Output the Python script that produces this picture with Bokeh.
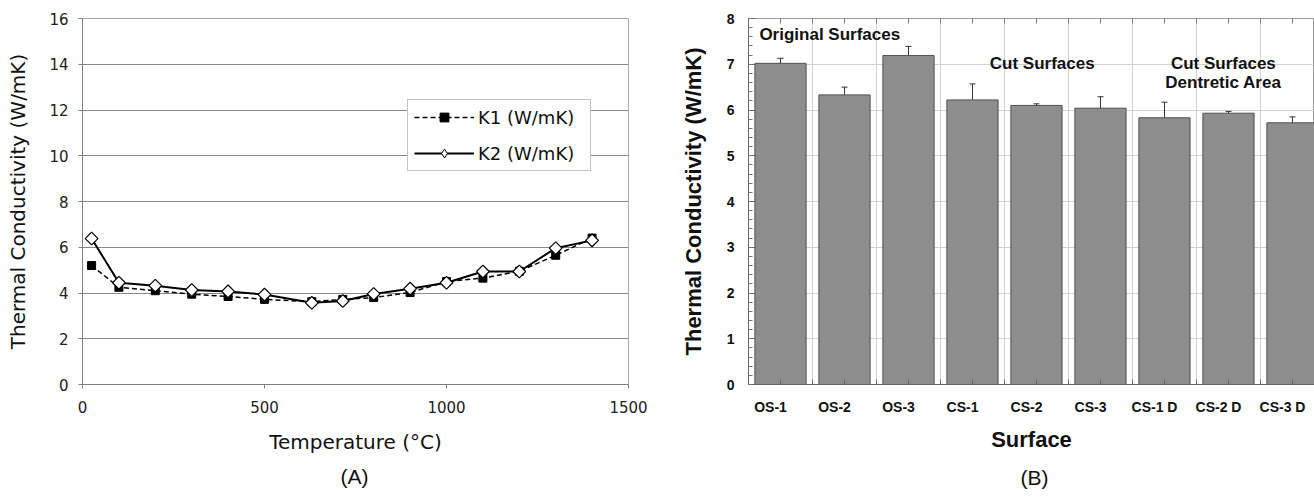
import numpy as np
from bokeh.plotting import figure
from bokeh.layouts import row
from bokeh.models import (Range1d, LinearAxis, FixedTicker, Legend, LegendItem,
                          Label, Title, Whisker, ColumnDataSource, TeeHead)
from bokeh.embed import file_html
from bokeh.resources import INLINE

# ---------------- data: panel (A) ----------------
temperature = [25, 100, 200, 300, 400, 500, 630, 715, 800, 900, 1000, 1100, 1200, 1300, 1400]
k1_values = [5.2, 4.25, 4.1, 3.95, 3.85, 3.72, 3.62, 3.72, 3.8, 4.02, 4.5, 4.65, 4.95, 5.65, 6.4]
k2_values = [6.38, 4.45, 4.32, 4.13, 4.07, 3.93, 3.57, 3.65, 3.96, 4.19, 4.45, 4.94, 4.94, 5.96, 6.3]
a_x_ticks = [0, 500, 1000, 1500]
a_y_ticks = [0, 2, 4, 6, 8, 10, 12, 14, 16]

# ---------------- data: panel (B) ----------------
surfaces = ["OS-1", "OS-2", "OS-3", "CS-1", "CS-2", "CS-3", "CS-1 D", "CS-2 D", "CS-3 D"]
conductivity = [7.02, 6.33, 7.19, 6.22, 6.10, 6.04, 5.83, 5.93, 5.72]
conductivity_err = [0.11, 0.17, 0.20, 0.35, 0.035, 0.25, 0.34, 0.04, 0.13]
group_labels = ["Original Surfaces", "Cut Surfaces", "Cut Surfaces", "Dentretic Area"]
captions = ["(A)", "(B)"]

FONT_A = "DejaVu Sans"
FONT_B = "Liberation Sans"

# ================= panel (A) =================
p1 = figure(width=673, height=498, x_range=Range1d(0, 1500), y_range=Range1d(0, 16),
            output_backend="svg", toolbar_location=None,
            min_border_left=82, min_border_right=45, min_border_top=18, min_border_bottom=112)
p1.background_fill_color = "white"
p1.outline_line_color = "#a8a8a8"
p1.xgrid.visible = False
p1.ygrid.grid_line_color = "#8a8a8a"
p1.ygrid.grid_line_width = 1

p1.xaxis.ticker = FixedTicker(ticks=a_x_ticks)
p1.yaxis.ticker = FixedTicker(ticks=a_y_ticks)
for ax in (p1.xaxis[0], p1.yaxis[0]):
    ax.axis_line_color = "#808080"
    ax.major_tick_line_color = "#808080"
    ax.major_tick_out = 4
    ax.major_tick_in = 0
    ax.minor_tick_line_color = None
    ax.major_label_text_font = FONT_A
    ax.major_label_text_font_size = "15px"
    ax.major_label_text_color = "#222222"
    ax.axis_label_text_font = FONT_A
    ax.axis_label_text_font_size = "20px"
    ax.axis_label_text_font_style = "normal"
    ax.axis_label_text_color = "#111111"
p1.xaxis.axis_label = "Temperature (°C)"
p1.yaxis.axis_label = "Thermal Conductivity (W/mK)"
p1.xaxis.major_label_standoff = 12
p1.xaxis.axis_label_standoff = 14
p1.yaxis.major_label_standoff = 10
p1.yaxis.axis_label_standoff = 16

l1 = p1.line(temperature, k1_values, line_color="black", line_width=1.5, line_dash="5 3")
s1 = p1.scatter(temperature, k1_values, marker="square", size=8, fill_color="black", line_color="black")
l2 = p1.line(temperature, k2_values, line_color="black", line_width=2)
s2 = p1.scatter(temperature, k2_values, marker="square", angle=np.pi / 4, size=9,
                fill_color="white", line_color="black", line_width=1.2)

# small legend-only marker (as drawn in the original legend); never visible in the frame
leg_dm = p1.scatter([np.nan], [np.nan], marker="diamond", size=10, fill_color="white",
                    line_color="black", line_width=1)

legend = Legend(items=[LegendItem(label="K1 (W/mK)", renderers=[l1, s1]),
                       LegendItem(label="K2 (W/mK)", renderers=[l2, leg_dm])],
                location=(325, 213), glyph_width=60, glyph_height=22, padding=6, spacing=14,
                label_standoff=4, label_width=106, margin=0, border_line_color="#888888",
                background_fill_color="white", background_fill_alpha=1.0,
                label_text_font=FONT_A, label_text_font_size="18px", label_text_color="#111111")
p1.add_layout(legend)

cap_kw = dict(align="left", text_font=FONT_B, text_font_size="21px",
              text_font_style="normal", text_color="#111111")
p1.add_layout(Title(text=captions[0], offset=258, standoff=13, **cap_kw), "below")

# ================= panel (B) =================
n = len(surfaces)
idx = list(range(n))
centers = [float(i) for i in idx]
boundaries = [i + 0.5 for i in range(-1, n)]
label_pos = [i - 0.15625 for i in idx]

p2 = figure(width=641, height=498, x_range=Range1d(-0.5, 8.344), y_range=Range1d(0, 8),
            output_backend="svg", toolbar_location=None,
            min_border_left=75, min_border_right=0, min_border_top=18, min_border_bottom=112)
p2.outline_line_color = "#9a9a9a"

p2.xaxis.ticker = FixedTicker(ticks=label_pos, minor_ticks=centers + boundaries)
p2.xaxis.major_label_overrides = {pos: name for pos, name in zip(label_pos, surfaces)}
p2.xaxis.major_tick_in = 0
p2.xaxis.major_tick_out = 0
p2.xaxis.minor_tick_in = 5
p2.xaxis.minor_tick_out = 0
p2.xaxis.minor_tick_line_color = "#666666"

p2.yaxis.ticker = FixedTicker(ticks=list(range(0, 9)),
                              minor_ticks=[i / 5 for i in range(0, 41)])
p2.yaxis.major_tick_in = 7
p2.yaxis.major_tick_out = 0
p2.yaxis.minor_tick_in = 4
p2.yaxis.minor_tick_out = 0
p2.yaxis.minor_tick_line_color = "#777777"

for ax in (p2.xaxis[0], p2.yaxis[0]):
    ax.axis_line_color = "#666666"
    ax.major_tick_line_color = "#666666"
    ax.major_label_text_font = FONT_B
    ax.major_label_text_font_style = "bold"
    ax.major_label_text_font_size = "14px"
    ax.major_label_text_color = "#111111"
    ax.axis_label_text_font = FONT_B
    ax.axis_label_text_font_style = "bold"
    ax.axis_label_text_font_size = "22px"
    ax.axis_label_text_color = "#111111"
p2.xaxis.axis_label = "Surface"
p2.yaxis.axis_label = "Thermal Conductivity (W/mK)"
p2.xaxis.major_label_standoff = 14
p2.xaxis.axis_label_standoff = 9
p2.yaxis.major_label_standoff = 14
p2.yaxis.axis_label_standoff = 18

top_axis = LinearAxis(ticker=FixedTicker(ticks=[], minor_ticks=centers + boundaries),
                      axis_line_color="#9a9a9a", minor_tick_in=5, minor_tick_out=0,
                      minor_tick_line_color="#777777", major_label_text_font_size="0px",
                      major_label_standoff=0)
p2.add_layout(top_axis, "above")

p2.xgrid.ticker = FixedTicker(ticks=boundaries)
p2.xgrid.grid_line_color = "#d2d2d2"
p2.ygrid.ticker = FixedTicker(ticks=list(range(0, 9)))
p2.ygrid.grid_line_color = "#d2d2d2"

src = ColumnDataSource(dict(
    x=idx, top=conductivity,
    upper=[v + e for v, e in zip(conductivity, conductivity_err)],
    lower=[v - e for v, e in zip(conductivity, conductivity_err)]))
p2.vbar(x="x", top="top", width=0.8, source=src, fill_color="#8e8e8e",
        line_color="#505050", line_width=1)
p2.add_layout(Whisker(source=src, base="x", upper="upper", lower="lower",
                      line_color="#333333", line_width=1,
                      upper_head=TeeHead(size=6, line_color="#333333", line_width=1),
                      lower_head=TeeHead(size=6, line_color="#333333", line_width=1)))

lab_kw = dict(text_font=FONT_B, text_font_style="bold", text_font_size="17px",
              text_color="#111111", text_baseline="middle")
p2.add_layout(Label(x=-0.33, y=7.65, text=group_labels[0], text_align="left", **lab_kw))
p2.add_layout(Label(x=4.09, y=7.02, text=group_labels[1], text_align="center", **lab_kw))
p2.add_layout(Label(x=6.92, y=7.02, text=group_labels[2], text_align="center", **lab_kw))
p2.add_layout(Label(x=6.92, y=6.61, text=group_labels[3], text_align="center", **lab_kw))

p2.add_layout(Title(text=captions[1], offset=272, standoff=19, **cap_kw), "below")

layout = row(p1, p2)
open("out.html", "w").write(file_html(layout, INLINE))
